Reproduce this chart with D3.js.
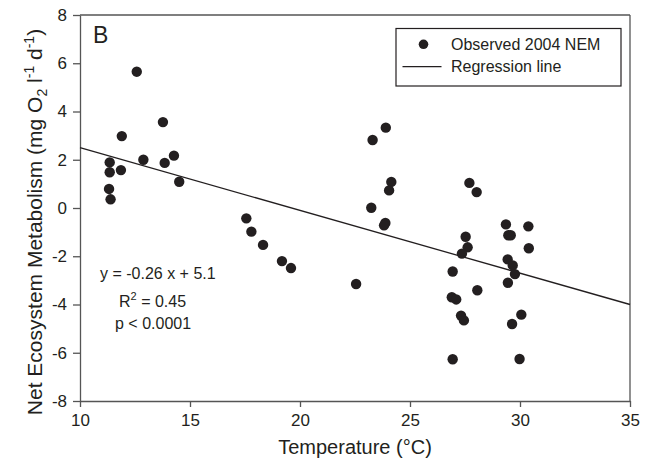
<!DOCTYPE html>
<html><head><meta charset="utf-8">
<script src="https://cdn.jsdelivr.net/npm/d3@7"></script>
<style>body{margin:0;background:#fff}svg{display:block;font-family:"Liberation Sans",Arial,sans-serif}</style>
</head><body><svg id="c" width="654" height="465"></svg>
<script>
const temperature = [12.58,13.77,11.9,11.35,11.35,11.86,12.88,13.85,14.27,14.51,11.32,11.39,
  17.56,17.79,18.32,19.18,19.59,22.55,
  23.9,23.3,24.15,24.05,23.24,23.88,23.82,
  27.7,28.03,29.36,30.38,29.47,29.58,27.53,27.62,27.36,30.4,29.44,29.67,29.77,26.94,29.45,28.06,26.9,27.1,27.32,27.45,30.06,29.64,26.94,29.98];
const nem = [5.65,3.56,2.98,1.89,1.48,1.57,2.0,1.87,2.17,1.09,0.79,0.36,
  -0.43,-0.98,-1.53,-2.2,-2.49,-3.15,
  3.33,2.82,1.08,0.73,0.01,-0.62,-0.72,
  1.04,0.66,-0.68,-0.76,-1.13,-1.13,-1.19,-1.63,-1.89,-1.67,-2.13,-2.38,-2.74,-2.63,-3.1,-3.41,-3.7,-3.79,-4.46,-4.66,-4.42,-4.81,-6.27,-6.26];
const xTicks = [10,15,20,25,30,35];
const yTicks = [-8,-6,-4,-2,0,2,4,6,8];
const slope = -0.26, intercept = 5.1;
const legendLabels = ["Observed 2004 NEM","Regression line"];
const statLines = ["y = -0.26 x + 5.1","R2 = 0.45","p < 0.0001"];

const svg = d3.select("#c");
const L=80,R=630,T=15,B=401;
const x = d3.scaleLinear().domain([10,35]).range([L,R]);
const y = d3.scaleLinear().domain([-8,8]).range([B,T]);
const axisColor="#555", ink="#231f20";

// frame top/right
svg.append("line").attr("x1",L).attr("x2",R).attr("y1",T).attr("y2",T).attr("stroke",axisColor).attr("stroke-width",1.3);
svg.append("line").attr("x1",R).attr("x2",R).attr("y1",T).attr("y2",B).attr("stroke",axisColor).attr("stroke-width",1.3);

const gx = svg.append("g").attr("transform",`translate(0,${B})`)
  .call(d3.axisBottom(x).tickValues(xTicks).tickSize(6).tickPadding(7).tickSizeOuter(0));
const gy = svg.append("g").attr("transform",`translate(${L},0)`)
  .call(d3.axisLeft(y).tickValues(yTicks).tickSize(7).tickPadding(6).tickSizeOuter(0).tickFormat(d3.format("d")));
[gx,gy].forEach(g=>{
  g.selectAll("path,line").attr("stroke",axisColor).attr("stroke-width",1.3);
  g.selectAll("text").attr("font-size",17).attr("fill",ink).attr("font-family","Liberation Sans, Arial, sans-serif");
});
gy.selectAll("text").text(d=>d<0?"-"+Math.abs(d):d);

// regression line
svg.append("line").attr("x1",x(10)).attr("y1",y(slope*10+intercept))
  .attr("x2",x(35)).attr("y2",y(slope*35+intercept)).attr("stroke",ink).attr("stroke-width",1.3);

// points
svg.append("g").selectAll("circle").data(temperature.map((t,i)=>[t,nem[i]])).join("circle")
  .attr("cx",d=>x(d[0])).attr("cy",d=>y(d[1])).attr("r",5.2).attr("fill",ink);

// B
svg.append("text").attr("x",93).attr("y",43).attr("font-size",23).attr("fill",ink).text("B");

// stats
const st = svg.append("g").attr("font-size",16).attr("fill",ink);
st.append("text").attr("x",100).attr("y",279).text(statLines[0]);
const r2 = st.append("text").attr("x",119).attr("y",307);
r2.append("tspan").text("R");
r2.append("tspan").attr("font-size",11).attr("dy",-7).text("2");
r2.append("tspan").attr("dy",7).text(" = 0.45");
st.append("text").attr("x",115).attr("y",329).text(statLines[2]);

// legend
svg.append("rect").attr("x",396).attr("y",28.5).attr("width",225).attr("height",57.5)
  .attr("fill","#fff").attr("stroke",ink).attr("stroke-width",1.2);
svg.append("circle").attr("cx",423.5).attr("cy",44.3).attr("r",4.8).attr("fill",ink);
svg.append("line").attr("x1",402.5).attr("x2",441.5).attr("y1",66.7).attr("y2",66.7).attr("stroke",ink).attr("stroke-width",1.2);
svg.append("text").attr("x",451).attr("y",49.5).attr("font-size",16).attr("fill",ink).text(legendLabels[0]);
svg.append("text").attr("x",451).attr("y",71.5).attr("font-size",16).attr("fill",ink).text(legendLabels[1]);

// axis titles
svg.append("text").attr("x",(L+R)/2).attr("y",454).attr("text-anchor","middle").attr("font-size",20).attr("fill",ink).text("Temperature (°C)");
const yl = svg.append("text").attr("transform","translate(42,222) rotate(-90)").attr("text-anchor","middle").attr("font-size",21).attr("fill",ink);
yl.append("tspan").text("Net Ecosystem Metabolism (mg O");
yl.append("tspan").attr("font-size",14).attr("dy",5).text("2");
yl.append("tspan").attr("dy",-5).text(" l");
yl.append("tspan").attr("font-size",14).attr("dy",-8).text("-1");
yl.append("tspan").attr("dy",8).text(" d");
yl.append("tspan").attr("font-size",14).attr("dy",-8).text("-1");
yl.append("tspan").attr("dy",8).text(")");
</script></body></html>
